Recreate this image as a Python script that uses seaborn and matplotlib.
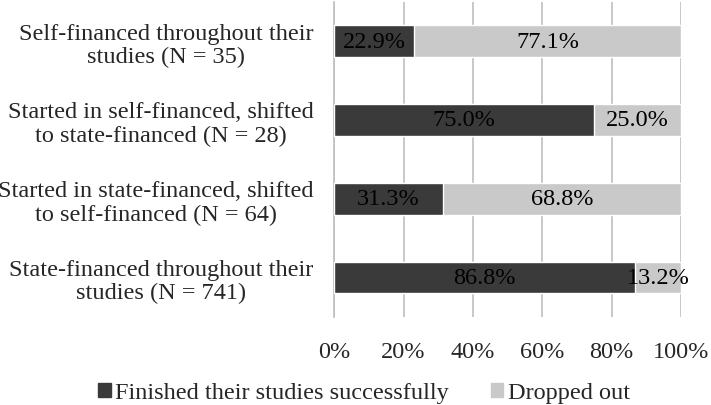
import matplotlib
matplotlib.use("Agg")
import matplotlib.pyplot as plt
import seaborn as sns
import pandas as pd
from matplotlib.patches import Patch

groups = ["Self-financed throughout their\nstudies (N = 35)",
          "Started in self-financed, shifted\nto state-financed (N = 28)",
          "Started in state-financed, shifted\nto self-financed (N = 64)",
          "State-financed throughout their\nstudies (N = 741)"]
finished = [22.9, 75.0, 31.3, 86.8]
dropped = [77.1, 25.0, 68.8, 13.2]

dark = "#3a3a3a"
light = "#c9c9c9"
fs = 17.5

df = pd.DataFrame({"group": groups, "finished": finished, "dropped": dropped})
df["total"] = df["finished"] + df["dropped"]

sns.set_style("white")
plt.rcParams["font.family"] = ["Liberation Serif", "DejaVu Serif"]

fig = plt.figure(figsize=(7.11, 4.06), dpi=100)
ax = fig.add_axes([0.470, 0.217, 0.488, 0.776])

# light bar = full width, dark bar drawn over it
sns.barplot(data=df, y="group", x="total", color=light, width=0.4,
            saturation=1, ax=ax, zorder=3)
sns.barplot(data=df, y="group", x="finished", color=dark, width=0.4,
            saturation=1, ax=ax, zorder=4)

for i in range(len(groups)):
    ax.text(finished[i] / 2, i, f"{finished[i]:.1f}%", ha="center", va="center",
            fontsize=fs, color="black", zorder=5)
    ax.text(finished[i] + dropped[i] / 2, i, f"{dropped[i]:.1f}%", ha="center",
            va="center", fontsize=fs, color="black", zorder=5)

ax.set_xlim(0, 100)
ax.set_ylim(3.5, -0.5)
ax.set_xticks([0, 20, 40, 60, 80, 100])
ax.set_xticklabels([f"{v}%" for v in [0, 20, 40, 60, 80, 100]])
ax.xaxis.grid(True, color="#bfbfbf", linewidth=1.2, zorder=0)
ax.set_axisbelow(True)
ax.set_xlabel("")
ax.set_ylabel("")
ax.tick_params(axis="x", length=0, pad=17, labelsize=fs)
ax.tick_params(axis="y", length=0, pad=15, labelsize=fs)
for t in ax.get_yticklabels():
    t.set_multialignment("center")
    t.set_linespacing(1.15)

for s in ["top", "right", "bottom"]:
    ax.spines[s].set_visible(False)
ax.spines["left"].set_color("#bfbfbf")
ax.spines["left"].set_linewidth(1.2)

handles = [Patch(color=dark, label="Finished their studies successfully"),
           Patch(color=light, label="Dropped out")]
fig.legend(handles=handles, loc="center", bbox_to_anchor=(0.512, 0.03),
           ncol=2, frameon=False, fontsize=fs, handlelength=0.5,
           handleheight=0.5, handletextpad=0.2, columnspacing=1.7)

fig.savefig("out.png", dpi=100)
